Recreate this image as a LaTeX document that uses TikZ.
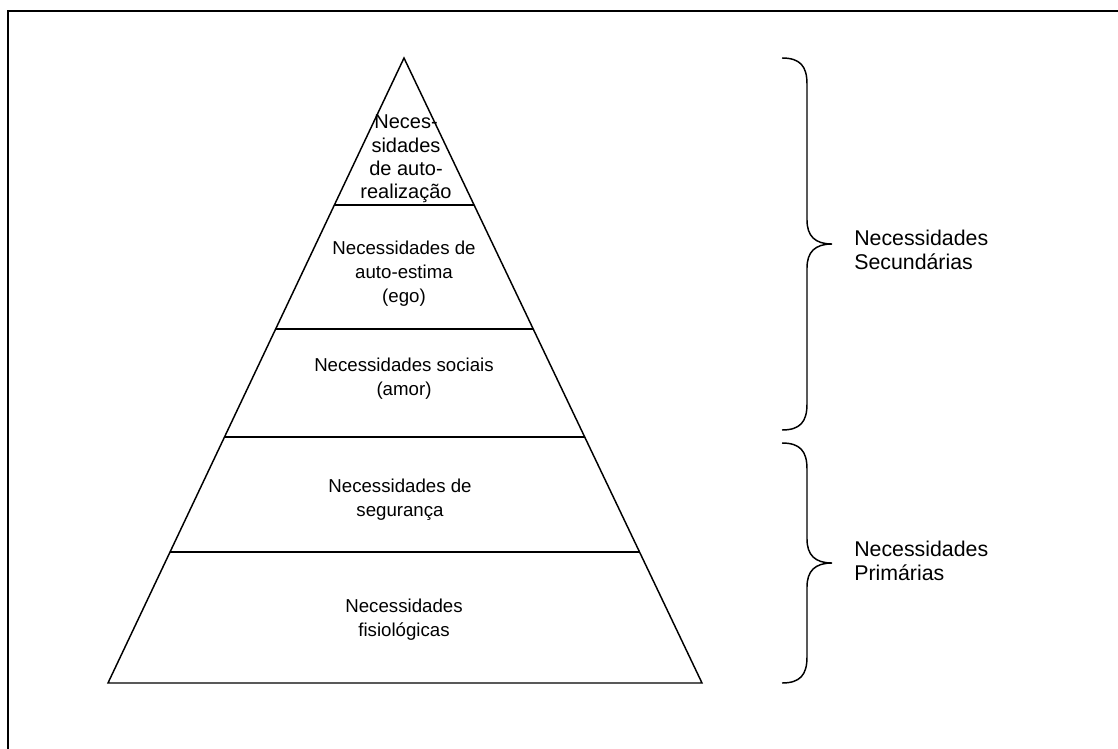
\documentclass[tikz,border=0pt]{standalone}
\usepackage{fontspec}
\setmainfont{Liberation Sans}
\usepackage{tikz}
\usetikzlibrary{positioning}
\usetikzlibrary{calc}
\tikzstyle{frame}=[line width=1.5pt]
\tikzstyle{pyr}=[line width=1.1pt]
\tikzstyle{brace}=[line width=1.1pt]
\tikzstyle{level}=[align=center,inner sep=0,font=\fontsize{14}{18}\selectfont]
\tikzstyle{side}=[align=left,anchor=west,inner sep=0,font=\fontsize{16}{18}\selectfont]

\begin{document}
\begin{tikzpicture}[x=0.75pt,y=-0.75pt]
\path[use as bounding box] (0,0) rectangle (1118,749);

\draw[frame] (8,749) -- (8,11) -- (1118,11);

\coordinate (apex) at (404,58);
\coordinate (bl) at (108,683);
\coordinate (br) at (702,683);
\draw[pyr] (apex) -- (bl) -- (br) -- cycle;
\foreach \t in {0.2352,0.4336,0.6064,0.7904}
  \draw[pyr] ($(apex)!\t!(bl)$) -- ($(apex)!\t!(br)$);

\node[level,font=\fontsize{15}{17.5}\selectfont] (autoreal) at (406,159) {Neces-\\sidades\\de auto-\\realização};
\node[level] (estima) at (404,274) {Necessidades de\\auto-estima\\(ego)};
\node[level] (social) at (404,379) {Necessidades sociais\\(amor)};
\node[level] (seg) at (400,500) {Necessidades de\\segurança};
\node[level] (fisio) at (404,620) {Necessidades\\fisiológicas};

% chaves
\coordinate (secTip) at (832,244);
\coordinate (priTip) at (832,563);
\draw[brace] (782,58) .. controls (800,58) and (807,66) .. (807,84) -- (807,220)
  .. controls (807,236) and (815,244) .. (secTip)
  .. controls (815,244) and (807,252) .. (807,268) -- (807,404)
  .. controls (807,422) and (800,430) .. (782,430);
\draw[brace] (782,443) .. controls (800,443) and (807,451) .. (807,469) -- (807,539)
  .. controls (807,555) and (815,563) .. (priTip)
  .. controls (815,563) and (807,571) .. (807,587) -- (807,657)
  .. controls (807,675) and (800,683) .. (782,683);

\node[side,right=16.5pt of secTip,yshift=-4.5pt] (sec) {Necessidades\\Secundárias};
\node[side,right=16.5pt of priTip,yshift=1.5pt] (pri) {Necessidades\\Primárias};

\end{tikzpicture}
\end{document}
